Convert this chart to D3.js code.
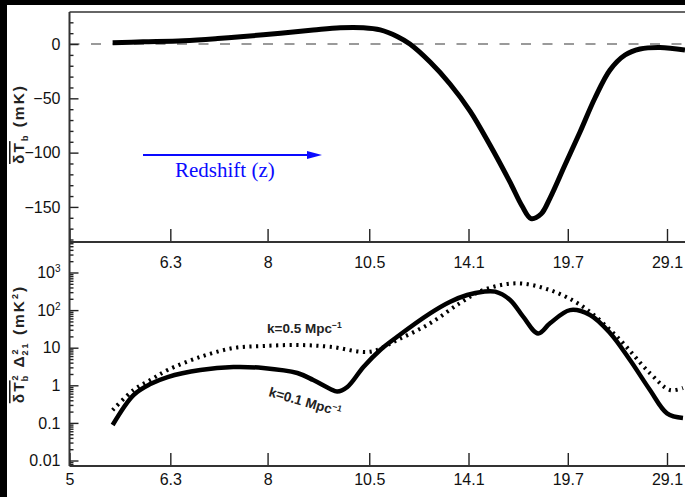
<!DOCTYPE html>
<html>
<head>
<meta charset="utf-8">
<script src="https://cdn.jsdelivr.net/npm/d3@7"></script>
<style>
  html, body { margin: 0; padding: 0; background: #fff; }
  svg { display: block; }
</style>
</head>
<body>
<svg id="chart" width="685" height="497"></svg>
<script>
// Redshift ticks shared by both panels
const zTicks = [5, 6.3, 8, 10.5, 14.1, 19.7, 29.1];
const zTickLabels = ["5", "6.3", "8", "10.5", "14.1", "19.7", "29.1"];

// Global 21-cm brightness temperature (mK) against redshift
const zGlobal = [5.51, 5.91, 6.50, 7.06, 7.47, 8.27, 9.01, 9.69, 10.33, 10.83, 11.37, 11.80, 12.53, 13.31, 14.17, 15.10, 16.12, 16.79, 17.31, 17.92, 18.49, 19.50, 20.60, 21.78, 23.07, 24.47, 25.99, 28.25, 31.48];
const dTb = [1.2, 2, 3, 5, 6.7, 10, 12.9, 15, 15, 13, 7, 0, -16.6, -36.8, -61.7, -93, -127, -149.2, -160.7, -156.5, -141.8, -111.4, -81, -49.7, -23.9, -10.1, -4.6, -3.2, -5.5];

// Power spectrum (mK^2), k = 0.1 Mpc^-1
const zK01 = [5.51, 5.78, 6.01, 6.26, 6.77, 7.34, 7.91, 8.64, 9.01, 9.43, 9.61, 9.88, 10.33, 10.83, 11.37, 12.53, 13.32, 14.04, 14.77, 15.36, 16.13, 16.85, 17.74, 18.49, 19.86, 21.38, 23.07, 24.96, 27.08, 29.1, 31.2];
const pK01 = [0.088, 0.55, 1.08, 1.66, 2.55, 3.07, 2.89, 2.12, 1.38, 0.80, 0.68, 0.90, 3.07, 8.7, 19.6, 82, 167, 252, 309, 309, 186, 67, 24, 44.5, 100, 74, 24.6, 4.7, 0.75, 0.18, 0.135];

// Power spectrum (mK^2), k = 0.5 Mpc^-1
const zK05 = [5.51, 5.78, 6.01, 6.26, 6.77, 7.34, 7.91, 8.64, 9.43, 10.53, 11.37, 12.53, 13.74, 14.77, 16.51, 18.49, 20.83, 23.71, 27.08, 29.48, 31.2];
const pK05 = [0.22, 0.75, 1.38, 2.55, 5.7, 9.8, 11.1, 11.8, 10.6, 7.8, 16, 44.5, 155, 340, 515, 340, 123, 19.6, 2.1, 0.75, 0.85];

// Axis ticks
const tbMajor = [-150, -100, -50, 0];
const tbMajorLabels = ["\u2212150", "\u2212100", "\u221250", "0"];
const psDecades = [0.01, 0.1, 1, 10, 100, 1000];
const psDecadeBase = ["0.01", "0.1", "1", "10", "10", "10"];
const psDecadeExp = ["", "", "", "", "2", "3"];

const svg = d3.select("#chart");
const W = 685, H = 497;
const left = 69.5, right = 720;
const upTop = 12, upBot = 242, loTop = 242, loBot = 466;
const tickFont = "'Liberation Sans Narrow', 'Arial Narrow', 'Liberation Sans', sans-serif";
const ink = "#111";

svg.append("rect").attr("width", W).attr("height", H).attr("fill", "#fff");

// x is linear in (1+z)^-1/2
const xs = d3.scalePow().exponent(-0.5).domain([1 + 5, 1 + 29.1]).range([69.5, 667]);
const X = z => xs(1 + z);

const yUp = d3.scaleLinear().domain([-182.3, 29.5]).range([upBot, upTop]);
const yLo = d3.scaleLog().domain([Math.pow(10, -2.146), Math.pow(10, 3.811)]).range([loBot, loTop]);

// zero reference line
svg.append("line")
  .attr("x1", left).attr("x2", right)
  .attr("y1", yUp(0)).attr("y2", yUp(0))
  .attr("stroke", "#9a9a9a").attr("stroke-width", 2)
  .attr("stroke-dasharray", "10 11.5");

function styleAxis(g) {
  g.select(".domain").remove();
  g.selectAll(".tick line").attr("stroke", "#222").attr("stroke-width", 1.4);
  g.selectAll(".tick text")
    .attr("font-family", tickFont).attr("font-size", 16).attr("fill", ink);
}

// bottom axes of each panel
const tickPos = zTicks.map(z => 1 + z);
svg.append("g").attr("transform", `translate(0,${upBot})`)
  .call(d3.axisBottom(xs).tickValues(tickPos).tickSize(-13).tickPadding(15)
    .tickFormat((d, i) => i === 0 ? "" : zTickLabels[i]))
  .call(styleAxis);
svg.append("g").attr("transform", `translate(0,${loBot})`)
  .call(d3.axisBottom(xs).tickValues(tickPos).tickSize(-13).tickPadding(8)
    .tickFormat((d, i) => zTickLabels[i]))
  .call(styleAxis);

// upper y axis
const tbMinor = d3.range(-180, 30, 10).filter(v => v % 50 !== 0);
svg.append("g").attr("transform", `translate(${left},0)`)
  .call(d3.axisLeft(yUp).tickValues(tbMinor).tickSize(-4).tickFormat(() => ""))
  .call(styleAxis);
svg.append("g").attr("transform", `translate(${left},0)`)
  .call(d3.axisLeft(yUp).tickValues(tbMajor).tickSize(-9).tickPadding(9)
    .tickFormat((d, i) => tbMajorLabels[i]))
  .call(styleAxis);

// lower y axis (log)
const psMinor = [];
for (let e = -3; e <= 3; e++) {
  for (let k = 2; k <= 9; k++) {
    const v = k * Math.pow(10, e);
    if (v > yLo.domain()[0] && v < yLo.domain()[1]) psMinor.push(v);
  }
}
svg.append("g").attr("transform", `translate(${left},0)`)
  .call(d3.axisLeft(yLo).tickValues(psMinor).tickSize(-4).tickFormat(() => ""))
  .call(styleAxis);
svg.append("g").attr("transform", `translate(${left},0)`)
  .call(d3.axisLeft(yLo).tickValues(psDecades).tickSize(-9).tickFormat(() => ""))
  .call(styleAxis);
const decLab = svg.append("g").selectAll("text").data(psDecades).join("text")
  .attr("x", left - 9).attr("y", d => yLo(d)).attr("dy", "0.36em")
  .attr("text-anchor", "end").attr("font-family", tickFont)
  .attr("font-size", 16).attr("fill", ink);
decLab.append("tspan").text((d, i) => psDecadeBase[i]);
decLab.append("tspan").attr("font-size", 10).attr("dy", -6)
  .text((d, i) => psDecadeExp[i]);

// frame
const frame = svg.append("g").attr("stroke", "#333").attr("stroke-width", 2).attr("fill", "none");
frame.append("line").attr("x1", left).attr("x2", right).attr("y1", upTop).attr("y2", upTop).attr("stroke", "#666");
frame.append("line").attr("x1", left).attr("x2", right).attr("y1", upBot).attr("y2", upBot);
frame.append("line").attr("x1", left).attr("x2", right).attr("y1", loBot).attr("y2", loBot);
frame.append("line").attr("x1", left).attr("x2", left).attr("y1", upTop).attr("y2", loBot);

// curves
const smooth = d3.curveCatmullRom.alpha(0.5);
const lineUp = d3.line().x(d => X(d[0])).y(d => yUp(d[1])).curve(smooth);
const lineLo = d3.line().x(d => X(d[0])).y(d => yLo(d[1])).curve(smooth);

svg.append("path")
  .attr("d", lineUp(d3.zip(zGlobal, dTb)))
  .attr("fill", "none").attr("stroke", "#000").attr("stroke-width", 5)
  .attr("stroke-linejoin", "round");

svg.append("path")
  .attr("d", lineLo(d3.zip(zK05, pK05)))
  .attr("fill", "none").attr("stroke", "#000").attr("stroke-width", 4)
  .attr("stroke-dasharray", "2.2 4.5");

svg.append("path")
  .attr("d", lineLo(d3.zip(zK01, pK01)))
  .attr("fill", "none").attr("stroke", "#000").attr("stroke-width", 4.5)
  .attr("stroke-linejoin", "round");

// curve labels
const annFont = "'Liberation Sans Narrow', 'Liberation Sans', Arial, sans-serif";
const a1 = svg.append("text").attr("x", 267).attr("y", 333)
  .attr("font-family", annFont).attr("font-size", 13.5).attr("font-weight", "bold").attr("fill", "#222");
a1.append("tspan").text("k=0.5 Mpc");
a1.append("tspan").attr("font-size", 8.5).attr("dy", -5).text("\u22121");

const a2 = svg.append("text").attr("transform", "translate(268,396) rotate(16)")
  .attr("font-family", annFont).attr("font-size", 13.5).attr("font-weight", "bold").attr("fill", "#222");
a2.append("tspan").text("k=0.1 Mpc");
a2.append("tspan").attr("font-size", 8.5).attr("dy", -5).text("\u22121");

// y axis titles
const titleFont = "'Liberation Sans', Arial, sans-serif";
const t1 = svg.append("text").attr("transform", "translate(24,124) rotate(-90)")
  .attr("text-anchor", "middle").attr("font-family", titleFont)
  .attr("font-size", 15.5).attr("font-weight", "bold").attr("fill", "#222")
  .attr("letter-spacing", 2);
t1.append("tspan").attr("text-decoration", "overline").text("\u03b4T");
t1.append("tspan").attr("font-size", 9).attr("dy", 4).text("b");
t1.append("tspan").attr("dy", -4).text("  (mK)");

const t2 = svg.append("text").attr("transform", "translate(24,344) rotate(-90)")
  .attr("text-anchor", "middle").attr("font-family", titleFont)
  .attr("font-size", 15.5).attr("font-weight", "bold").attr("fill", "#222")
  .attr("letter-spacing", 2);
t2.append("tspan").attr("text-decoration", "overline").text("\u03b4T");
t2.append("tspan").attr("font-size", 9).attr("dy", -6).text("2");
t2.append("tspan").attr("font-size", 9).attr("dx", -8).attr("dy", 10).text("b");
t2.append("tspan").attr("dy", -4).text("  \u0394");
t2.append("tspan").attr("font-size", 9).attr("dy", -6).text("2");
t2.append("tspan").attr("font-size", 9).attr("dx", -8).attr("dy", 10).text("21");
t2.append("tspan").attr("dy", -4).text("  (mK");
t2.append("tspan").attr("font-size", 9).attr("dy", -6).text("2");
t2.append("tspan").attr("dy", 6).text(")");

// redshift direction arrow
const blue = "#0a0aff";
svg.append("line").attr("x1", 143).attr("x2", 310).attr("y1", 155).attr("y2", 155)
  .attr("stroke", blue).attr("stroke-width", 2);
svg.append("path").attr("d", d3.line()([[307, 151], [322, 155], [307, 159]]) + "Z")
  .attr("fill", blue);
svg.append("text").attr("x", 175).attr("y", 177)
  .attr("font-family", "'Liberation Serif', 'Times New Roman', serif")
  .attr("font-size", 21).attr("fill", blue).text("Redshift (z)");

// dark border strips at the top and left edge
svg.append("rect").attr("x", 0).attr("y", 0).attr("width", W).attr("height", 5).attr("fill", "#000");
svg.append("rect").attr("x", 0).attr("y", 0).attr("width", 7).attr("height", H).attr("fill", "#000");
</script>
</body>
</html>
